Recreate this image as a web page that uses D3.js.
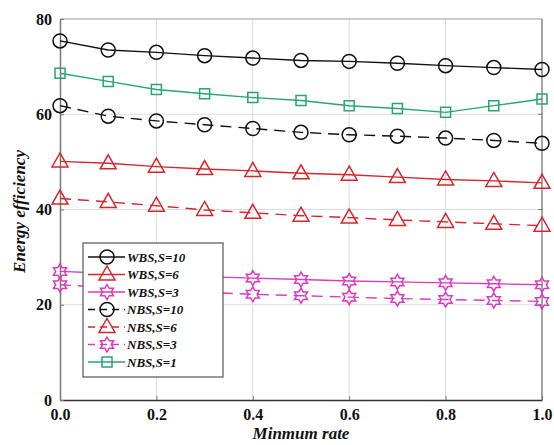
<!DOCTYPE html>
<html>
<head>
<meta charset="utf-8">
<script src="https://cdn.jsdelivr.net/npm/d3@7"></script>
<style>
  html, body { margin: 0; padding: 0; background: #fff; }
  svg text { font-family: "Liberation Serif", "Times New Roman", serif; font-weight: bold; }
</style>
</head>
<body>
<svg id="chart" width="554" height="445"></svg>
<script>
// Minimum rate (x values)
const rates = [0.0, 0.1, 0.2, 0.3, 0.4, 0.5, 0.6, 0.7, 0.8, 0.9, 1.0];

// Energy efficiency per scheme
const wbsS10 = [75.4, 73.5, 73.0, 72.3, 71.8, 71.3, 71.1, 70.7, 70.2, 69.8, 69.4];
const wbsS6  = [50.1, 49.7, 49.0, 48.5, 48.1, 47.6, 47.3, 46.8, 46.3, 46.0, 45.6];
const wbsS3  = [27.0, 26.6, 26.2, 25.9, 25.6, 25.3, 25.0, 24.8, 24.6, 24.4, 24.2];
const nbsS10 = [61.8, 59.6, 58.6, 57.8, 57.0, 56.2, 55.7, 55.4, 55.0, 54.5, 53.9];
const nbsS6  = [42.3, 41.6, 40.8, 39.9, 39.3, 38.7, 38.3, 37.8, 37.4, 37.0, 36.6];
const nbsS3  = [24.2, 23.6, 23.0, 22.6, 22.2, 21.9, 21.6, 21.3, 21.1, 20.9, 20.7];
const nbsS1  = [68.6, 66.9, 65.2, 64.3, 63.5, 62.9, 61.8, 61.2, 60.4, 61.8, 63.2];

const seriesNames = ["WBS,S=10", "WBS,S=6", "WBS,S=3", "NBS,S=10", "NBS,S=6", "NBS,S=3", "NBS,S=1"];

const xTicks = [0.0, 0.2, 0.4, 0.6, 0.8, 1.0];
const yTicks = [0, 20, 40, 60, 80];

const RED = "#d7262b", BLACK = "#111", MAGENTA = "#d93cbd", GREEN = "#27a574";

const series = [
  { name: seriesNames[0], values: wbsS10, color: BLACK,   marker: "circle",   dashed: false },
  { name: seriesNames[1], values: wbsS6,  color: RED,     marker: "triangle", dashed: false },
  { name: seriesNames[2], values: wbsS3,  color: MAGENTA, marker: "hexagram", dashed: false },
  { name: seriesNames[3], values: nbsS10, color: BLACK,   marker: "circle",   dashed: true },
  { name: seriesNames[4], values: nbsS6,  color: RED,     marker: "triangle", dashed: true },
  { name: seriesNames[5], values: nbsS3,  color: MAGENTA, marker: "hexagram", dashed: true },
  { name: seriesNames[6], values: nbsS1,  color: GREEN,   marker: "square",   dashed: false }
];

const svg = d3.select("#chart");
const L = 60, R = 542, T = 19, B = 400;

const x = d3.scaleLinear().domain([0, 1]).range([L, R]);
const y = d3.scaleLinear().domain([0, 80]).range([B, T]);

// grid
const grid = svg.append("g");
grid.selectAll("line.gx").data(xTicks.slice(1, -1)).join("line")
  .attr("x1", d => x(d)).attr("x2", d => x(d)).attr("y1", T).attr("y2", B)
  .attr("stroke", "#dcdcdc").attr("stroke-width", 1);
grid.selectAll("line.gy").data(yTicks.slice(1, -1)).join("line")
  .attr("x1", L).attr("x2", R).attr("y1", d => y(d)).attr("y2", d => y(d))
  .attr("stroke", "#dcdcdc").attr("stroke-width", 1);

// frame (top/right)
svg.append("line").attr("x1", L).attr("x2", R).attr("y1", T).attr("y2", T)
  .attr("stroke", "#999").attr("stroke-width", 1.2);
svg.append("line").attr("x1", R).attr("x2", R).attr("y1", T).attr("y2", B)
  .attr("stroke", "#888").attr("stroke-width", 1.5);

// axes
const xAxis = d3.axisBottom(x).tickValues(xTicks).tickFormat(d3.format(".1f")).tickSizeInner(-4).tickSizeOuter(0).tickPadding(9);
const yAxis = d3.axisLeft(y).tickValues(yTicks).tickFormat(d3.format("d")).tickSizeInner(-4).tickSizeOuter(0).tickPadding(8);

const gx = svg.append("g").attr("transform", `translate(0,${B})`).call(xAxis);
gx.select(".domain").attr("stroke", "#333").attr("stroke-width", 1.5);
gx.selectAll(".tick line").attr("stroke", "#777");
gx.selectAll("text").attr("font-size", 16).attr("fill", "#111")
  .attr("font-family", "Liberation Serif, serif").attr("font-weight", "bold");

const gy = svg.append("g").attr("transform", `translate(${L},0)`).call(yAxis);
gy.select(".domain").attr("stroke", "#777").attr("stroke-width", 1.5);
gy.selectAll(".tick line").attr("stroke", "#777");
gy.selectAll("text").attr("font-size", 16).attr("fill", "#111")
  .attr("font-family", "Liberation Serif, serif").attr("font-weight", "bold");

// right-side inward ticks
svg.append("g").selectAll("line").data(yTicks.slice(1, -1)).join("line")
  .attr("x1", R - 4).attr("x2", R).attr("y1", d => y(d)).attr("y2", d => y(d))
  .attr("stroke", "#777");

// axis titles
svg.append("text").attr("x", (L + R) / 2).attr("y", 439).attr("text-anchor", "middle")
  .attr("font-size", 17).attr("font-style", "italic").attr("fill", "#111").text("Minmum rate");
svg.append("text").attr("transform", `translate(25,${(T + B) / 2 + 2}) rotate(-90)`)
  .attr("text-anchor", "middle").attr("font-size", 17).attr("font-style", "italic")
  .attr("fill", "#111").text("Energy efficiency");

// marker shapes
function markerPath(type) {
  if (type === "triangle") {
    return "M0,-8.5L8,5.5L-8,5.5Z";
  }
  if (type === "square") {
    return "M-5,-5H5V5H-5Z";
  }
  if (type === "hexagram") {
    const pts = [];
    for (let i = 0; i < 12; i++) {
      const a = -Math.PI / 2 + i * Math.PI / 6;
      const r = i % 2 === 0 ? 7.5 : 4.3;
      pts.push([r * Math.cos(a), r * Math.sin(a)]);
    }
    return "M" + pts.map(p => p.join(",")).join("L") + "Z";
  }
  return null;
}

function drawMarker(g, type, color) {
  if (type === "circle") {
    g.append("circle").attr("r", 7).attr("fill", "none").attr("stroke", color).attr("stroke-width", 1.5);
  } else {
    g.append("path").attr("d", markerPath(type)).attr("fill", "none")
      .attr("stroke", color).attr("stroke-width", 1.5).attr("stroke-linejoin", "miter");
  }
}

const line = d3.line().x((d, i) => x(rates[i])).y(d => y(d));

const plot = svg.append("g");
series.forEach(s => {
  plot.append("path").datum(s.values).attr("d", line).attr("fill", "none")
    .attr("stroke", s.color).attr("stroke-width", 1.4)
    .attr("stroke-dasharray", s.dashed ? "11,7" : null);
  s.values.forEach((v, i) => {
    const g = plot.append("g").attr("transform", `translate(${x(rates[i])},${y(v)})`);
    drawMarker(g, s.marker, s.color);
  });
});

// legend
const lg = svg.append("g");
lg.append("rect").attr("x", 83).attr("y", 243).attr("width", 140).attr("height", 134)
  .attr("fill", "#fff").attr("stroke", "#555").attr("stroke-width", 1.2);
series.forEach((s, i) => {
  const yy = 257 + i * 17.5;
  lg.append("line").attr("x1", 88).attr("x2", 125).attr("y1", yy).attr("y2", yy)
    .attr("stroke", s.color).attr("stroke-width", 1.4)
    .attr("stroke-dasharray", s.dashed ? "7,5" : null);
  const g = lg.append("g").attr("transform", `translate(107,${yy})`);
  drawMarker(g, s.marker, s.color);
  lg.append("text").attr("x", 127).attr("y", yy + 4.5).attr("font-size", 13)
    .attr("font-style", "italic").attr("fill", "#111").text(s.name);
});
</script>
</body>
</html>
